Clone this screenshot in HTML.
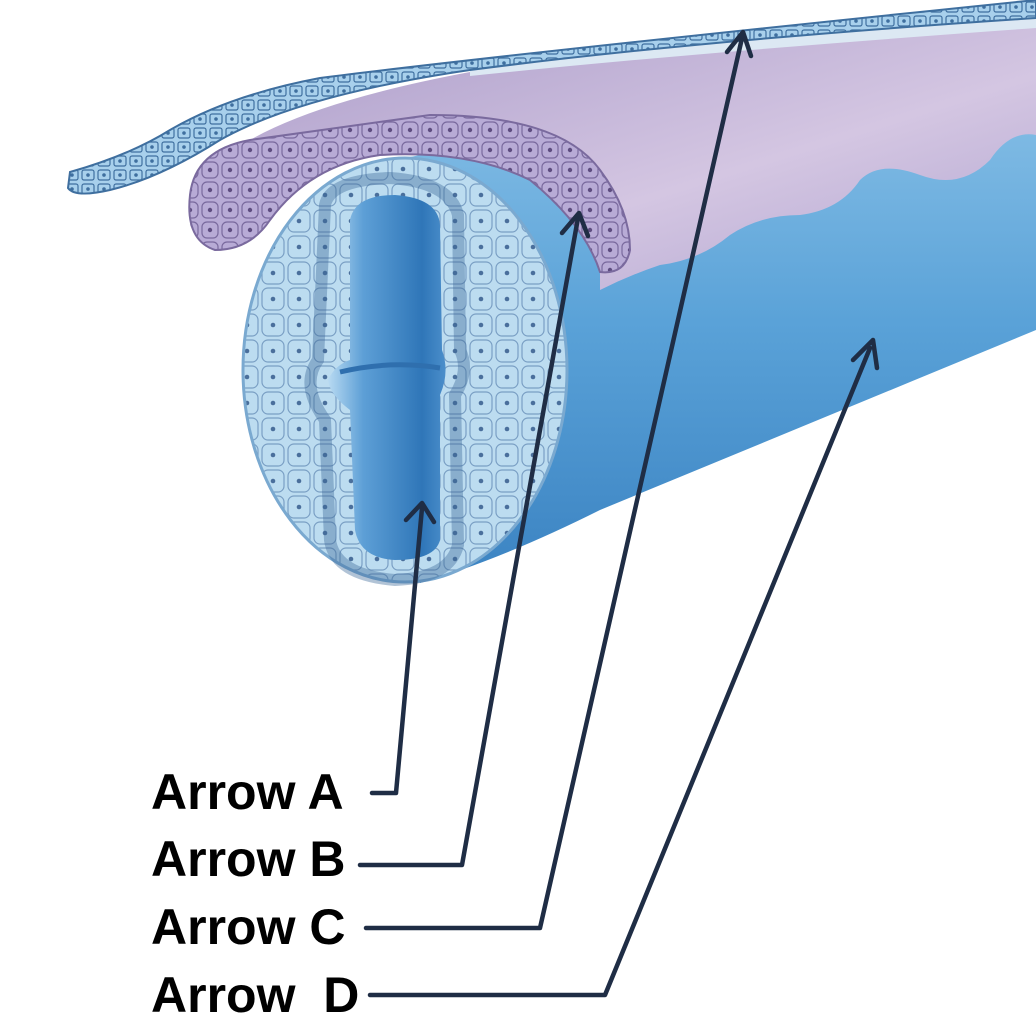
<!DOCTYPE html>
<html><head><meta charset="utf-8"><style>
html,body{margin:0;padding:0;background:#fff;}
svg{display:block}
text{font-family:"Liberation Sans",sans-serif;font-weight:bold;font-size:50px;fill:#000}
</style></head><body>
<svg width="1036" height="1034" viewBox="0 0 1036 1034" xmlns="http://www.w3.org/2000/svg">
<defs>
<linearGradient id="tube" x1="0" y1="0" x2="0" y2="1">
<stop offset="0" stop-color="#8cc3e8"/><stop offset="0.5" stop-color="#5aa2d8"/><stop offset="1" stop-color="#3b83c2"/>
</linearGradient>
<linearGradient id="purp" x1="0" y1="0" x2="1" y2="1">
<stop offset="0" stop-color="#a99ac8"/><stop offset="0.6" stop-color="#d4c6e2"/><stop offset="1" stop-color="#b0a4d0"/>
</linearGradient>
<linearGradient id="lum" x1="0" y1="0" x2="1" y2="0">
<stop offset="0" stop-color="#b8daf2"/><stop offset="0.3" stop-color="#5d9fd6"/><stop offset="0.8" stop-color="#2f76b8"/><stop offset="1" stop-color="#4b8ecb"/>
</linearGradient>
<pattern id="cells" width="26" height="26" patternUnits="userSpaceOnUse">
<rect width="26" height="26" fill="#bcdcf0"/>
<rect x="2" y="2" width="22" height="22" rx="6" fill="none" stroke="#7a9fc4" stroke-width="1.2"/>
<circle cx="13" cy="13" r="2.3" fill="#4a6f9c"/>
</pattern>
<pattern id="pcells" width="20" height="20" patternUnits="userSpaceOnUse">
<rect width="20" height="20" fill="#b8abd6"/>
<rect x="2" y="2" width="16" height="16" rx="5" fill="none" stroke="#7a6a9e" stroke-width="1.2"/>
<circle cx="10" cy="10" r="2.2" fill="#5e4d80"/>
</pattern>
<pattern id="scells" width="16" height="14" patternUnits="userSpaceOnUse">
<rect width="16" height="14" fill="#a8d0ec"/>
<rect x="2" y="2" width="12" height="10" rx="2" fill="none" stroke="#3f6f9f" stroke-width="1.2"/>
<circle cx="8" cy="7" r="1.8" fill="#3f6f9f"/>
</pattern>
</defs>
<path d="M405 158 L600 120 L1036 60 L1036 330 L600 510 Q500 560 420 583 Z" fill="url(#tube)"/>
<path d="M190 195 Q195 150 250 140 Q320 100 470 72 Q700 45 1036 22 L1036 135 Q1010 130 990 160 Q960 190 920 175 Q880 160 860 180 Q840 210 800 215 Q760 215 730 235 Q700 260 660 265 Q630 275 600 290 L600 270 Q620 240 590 200 Q560 165 470 150 Q350 140 290 190 Q260 215 240 240 Q200 250 190 225 Z" fill="url(#purp)"/>
<path d="M190 195 Q195 150 250 140 L430 115 Q560 115 600 170 Q630 210 630 250 Q625 275 600 272 Q585 225 530 180 Q470 150 380 155 Q310 165 270 220 Q250 250 215 250 Q185 240 190 195 Z" fill="url(#pcells)" stroke="#7a6a9e" stroke-width="2"/>
<path d="M470 70 Q700 40 1036 18 L1036 28 Q700 52 470 76 Z" fill="#dce8f3"/>
<path d="M70 172 Q130 155 170 130 Q230 95 320 78 Q500 55 1036 0 L1036 18 Q700 40 470 70 Q300 95 220 140 Q160 178 110 190 Q75 198 68 188 Z" fill="url(#scells)" stroke="#3f6f9f" stroke-width="2"/>
<ellipse cx="405" cy="370" rx="162" ry="212" fill="url(#cells)" stroke="#7aa9d0" stroke-width="3"/>
<path d="M325 205 Q330 180 390 178 Q450 182 458 215 L460 350 Q470 370 455 395 L458 545 Q450 578 395 580 Q335 575 330 540 L325 420 Q300 385 318 360 Z" fill="none" stroke="#3d6899" stroke-width="12" opacity="0.4"/>
<path d="M350 220 Q355 195 395 195 Q438 198 440 225 L442 350 Q450 372 440 395 L440 540 Q435 560 395 560 Q360 558 355 530 L350 410 Q330 395 328 380 Q335 365 350 360 Z" fill="url(#lum)"/>
<path d="M340 372 Q390 360 440 368" stroke="#2f6fae" stroke-width="5" fill="none"/>
<g stroke="#1f2d45" stroke-width="4.5" fill="none" stroke-linejoin="round" stroke-linecap="round">
<polyline points="372,793 396,793 422,508"/>
<polyline points="406,520 422,503 434,522"/>
<polyline points="360,865 462,865 578,218"/>
<polyline points="562,233 579,213 588,236"/>
<polyline points="366,928 540,928 742,38"/>
<polyline points="727,52 743,32 751,56"/>
<polyline points="370,995 605,995 870,348"/>
<polyline points="853,360 873,340 877,368"/>
</g>
<text x="151" y="809">Arrow A</text>
<text x="151" y="876">Arrow B</text>
<text x="151" y="944">Arrow C</text>
<text x="151" y="1012" xml:space="preserve">Arrow  D</text>
</svg>
</body></html>
